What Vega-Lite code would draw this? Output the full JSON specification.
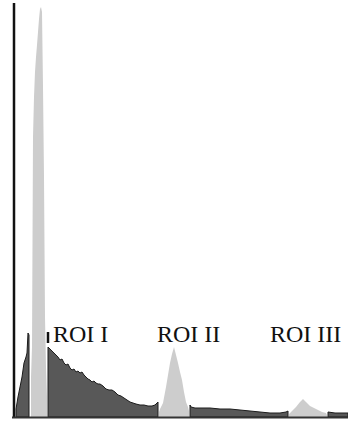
{
  "$schema": "https://vega.github.io/schema/vega-lite/v6.json",
  "width": 348,
  "height": 421,
  "padding": 0,
  "autosize": {"type": "none"},
  "background": "white",
  "config": {"view": {"stroke": null}},
  "datasets": {
    "hist": [
      {"x":16,"v":8,"s":"a","k":"roi"},{"x":18,"v":20,"s":"a","k":"roi"},{"x":20,"v":30,"s":"a","k":"roi"},{"x":22,"v":40,"s":"a","k":"roi"},{"x":24,"v":54,"s":"a","k":"roi"},{"x":26,"v":60,"s":"a","k":"roi"},{"x":27,"v":64,"s":"a","k":"roi"},{"x":28,"v":84,"s":"a","k":"roi"},{"x":29,"v":82,"s":"a","k":"roi"},
      {"x":31,"v":40,"s":"b","k":"bg"},{"x":32,"v":70,"s":"b","k":"bg"},{"x":33,"v":280,"s":"b","k":"bg"},{"x":34,"v":320,"s":"b","k":"bg"},{"x":35,"v":345,"s":"b","k":"bg"},{"x":36,"v":360,"s":"b","k":"bg"},{"x":37,"v":372,"s":"b","k":"bg"},{"x":38,"v":385,"s":"b","k":"bg"},{"x":39,"v":398,"s":"b","k":"bg"},{"x":40,"v":408,"s":"b","k":"bg"},{"x":41,"v":410,"s":"b","k":"bg"},{"x":42,"v":405,"s":"b","k":"bg"},{"x":43,"v":330,"s":"b","k":"bg"},{"x":44,"v":240,"s":"b","k":"bg"},{"x":45,"v":100,"s":"b","k":"bg"},{"x":46,"v":50,"s":"b","k":"bg"},{"x":47,"v":20,"s":"b","k":"bg"},
      {"x":48,"v":70,"s":"c","k":"roi"},{"x":50,"v":68,"s":"c","k":"roi"},{"x":52,"v":66,"s":"c","k":"roi"},{"x":55,"v":63,"s":"c","k":"roi"},{"x":58,"v":60,"s":"c","k":"roi"},{"x":60,"v":57,"s":"c","k":"roi"},{"x":62,"v":58,"s":"c","k":"roi"},{"x":64,"v":54,"s":"c","k":"roi"},{"x":66,"v":52,"s":"c","k":"roi"},{"x":68,"v":53,"s":"c","k":"roi"},{"x":70,"v":49,"s":"c","k":"roi"},{"x":72,"v":47,"s":"c","k":"roi"},{"x":74,"v":48,"s":"c","k":"roi"},{"x":76,"v":45,"s":"c","k":"roi"},{"x":78,"v":46,"s":"c","k":"roi"},{"x":80,"v":44,"s":"c","k":"roi"},{"x":82,"v":45,"s":"c","k":"roi"},{"x":84,"v":42,"s":"c","k":"roi"},{"x":86,"v":40,"s":"c","k":"roi"},{"x":88,"v":38,"s":"c","k":"roi"},{"x":90,"v":37,"s":"c","k":"roi"},{"x":92,"v":35,"s":"c","k":"roi"},{"x":94,"v":36,"s":"c","k":"roi"},{"x":96,"v":34,"s":"c","k":"roi"},{"x":98,"v":33,"s":"c","k":"roi"},{"x":100,"v":33,"s":"c","k":"roi"},{"x":103,"v":31,"s":"c","k":"roi"},{"x":106,"v":28,"s":"c","k":"roi"},{"x":109,"v":27,"s":"c","k":"roi"},{"x":112,"v":27,"s":"c","k":"roi"},{"x":115,"v":25,"s":"c","k":"roi"},{"x":118,"v":22,"s":"c","k":"roi"},{"x":121,"v":21,"s":"c","k":"roi"},{"x":124,"v":19,"s":"c","k":"roi"},{"x":127,"v":17,"s":"c","k":"roi"},{"x":130,"v":15,"s":"c","k":"roi"},{"x":133,"v":14,"s":"c","k":"roi"},{"x":136,"v":13,"s":"c","k":"roi"},{"x":140,"v":12,"s":"c","k":"roi"},{"x":144,"v":12,"s":"c","k":"roi"},{"x":148,"v":11,"s":"c","k":"roi"},{"x":152,"v":11,"s":"c","k":"roi"},{"x":155,"v":12,"s":"c","k":"roi"},{"x":157,"v":14,"s":"c","k":"roi"},{"x":158,"v":15,"s":"c","k":"roi"},
      {"x":159,"v":5,"s":"d","k":"bg"},{"x":160,"v":8,"s":"d","k":"bg"},{"x":163,"v":14,"s":"d","k":"bg"},{"x":166,"v":30,"s":"d","k":"bg"},{"x":168,"v":42,"s":"d","k":"bg"},{"x":170,"v":54,"s":"d","k":"bg"},{"x":172,"v":63,"s":"d","k":"bg"},{"x":174,"v":70,"s":"d","k":"bg"},{"x":176,"v":62,"s":"d","k":"bg"},{"x":178,"v":54,"s":"d","k":"bg"},{"x":180,"v":45,"s":"d","k":"bg"},{"x":182,"v":37,"s":"d","k":"bg"},{"x":184,"v":25,"s":"d","k":"bg"},{"x":186,"v":15,"s":"d","k":"bg"},{"x":188,"v":10,"s":"d","k":"bg"},{"x":189,"v":6,"s":"d","k":"bg"},
      {"x":190,"v":12,"s":"e","k":"roi"},{"x":191,"v":10,"s":"e","k":"roi"},{"x":195,"v":9,"s":"e","k":"roi"},{"x":200,"v":9,"s":"e","k":"roi"},{"x":210,"v":9,"s":"e","k":"roi"},{"x":220,"v":8,"s":"e","k":"roi"},{"x":230,"v":8,"s":"e","k":"roi"},{"x":240,"v":7,"s":"e","k":"roi"},{"x":250,"v":6,"s":"e","k":"roi"},{"x":260,"v":5,"s":"e","k":"roi"},{"x":270,"v":4,"s":"e","k":"roi"},{"x":280,"v":4,"s":"e","k":"roi"},{"x":286,"v":5,"s":"e","k":"roi"},{"x":288,"v":6,"s":"e","k":"roi"},
      {"x":289,"v":3,"s":"f","k":"bg"},{"x":292,"v":6,"s":"f","k":"bg"},{"x":296,"v":10,"s":"f","k":"bg"},{"x":300,"v":15,"s":"f","k":"bg"},{"x":303,"v":18,"s":"f","k":"bg"},{"x":306,"v":15,"s":"f","k":"bg"},{"x":310,"v":11,"s":"f","k":"bg"},{"x":314,"v":9,"s":"f","k":"bg"},{"x":318,"v":7,"s":"f","k":"bg"},{"x":322,"v":5,"s":"f","k":"bg"},{"x":326,"v":4,"s":"f","k":"bg"},{"x":327,"v":2,"s":"f","k":"bg"},
      {"x":328,"v":5,"s":"g","k":"roi"},{"x":335,"v":4,"s":"g","k":"roi"},{"x":340,"v":4,"s":"g","k":"roi"},{"x":348,"v":4,"s":"g","k":"roi"}
    ],
    "labels": [
      {"label":"ROI I","x":53,"y":75},
      {"label":"ROI II","x":157,"y":75},
      {"label":"ROI III","x":270,"y":75}
    ],
    "vrules": [
      {"x":14,"y":-1,"y2":414,"w":"axis"},
      {"x":48,"y":74,"y2":85,"w":"tick"}
    ],
    "hrules": [
      {"x":12,"x2":348,"y":-0.5,"c":"base"}
    ]
  },
  "layer": [
    {
      "data": {"name": "hist"},
      "transform": [{"filter": "datum.k === 'bg'"}],
      "mark": {"type": "area", "color": "#cdcdcd", "interpolate": "linear"},
      "encoding": {
        "x": {"field": "x", "type": "quantitative", "scale": {"domain": [0, 348], "nice": false, "zero": false}, "axis": null},
        "y": {"field": "v", "type": "quantitative", "scale": {"domain": [-4, 417], "nice": false, "zero": false}, "axis": null},
        "y2": {"datum": 0},
        "detail": {"field": "s"}
      }
    },
    {
      "data": {"name": "hist"},
      "transform": [{"filter": "datum.k === 'roi'"}],
      "mark": {"type": "area", "color": "#585858", "stroke": "#1c1c1c", "strokeWidth": 1, "interpolate": "linear"},
      "encoding": {
        "x": {"field": "x", "type": "quantitative"},
        "y": {"field": "v", "type": "quantitative"},
        "y2": {"datum": 0},
        "detail": {"field": "s"}
      }
    },
    {
      "data": {"name": "vrules"},
      "mark": {"type": "rule", "color": "#111", "strokeWidth": 2.5},
      "encoding": {
        "x": {"field": "x", "type": "quantitative"},
        "y": {"field": "y", "type": "quantitative"},
        "y2": {"field": "y2"}
      }
    },
    {
      "data": {"name": "hrules"},
      "mark": {"type": "rule", "color": "#333", "strokeWidth": 2},
      "encoding": {
        "x": {"field": "x", "type": "quantitative"},
        "x2": {"field": "x2"},
        "y": {"field": "y", "type": "quantitative"}
      }
    },
    {
      "data": {"name": "labels"},
      "mark": {"type": "text", "font": "Liberation Serif", "fontSize": 24, "align": "left", "baseline": "alphabetic", "color": "#111"},
      "encoding": {
        "x": {"field": "x", "type": "quantitative"},
        "y": {"field": "y", "type": "quantitative"},
        "text": {"field": "label"}
      }
    }
  ]
}
